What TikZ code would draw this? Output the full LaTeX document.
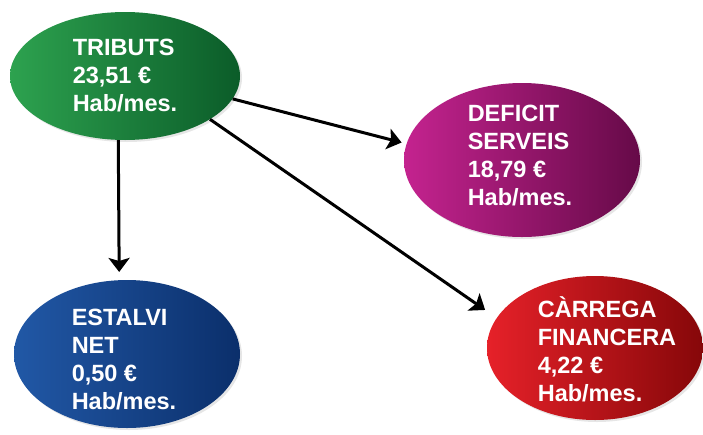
\documentclass[tikz,border=0pt]{standalone}
\usepackage{fontspec}
\setmainfont{Liberation Sans}
\usetikzlibrary{arrows.meta,shapes.geometric,shadows}
\definecolor{trilight}{HTML}{2DA24F}
\definecolor{tridark}{HTML}{0B5C29}
\definecolor{deflight}{HTML}{C4238F}
\definecolor{defdark}{HTML}{660A48}
\definecolor{estlight}{HTML}{2158A6}
\definecolor{estdark}{HTML}{0B2F6B}
\definecolor{carlight}{HTML}{E62129}
\definecolor{cardark}{HTML}{860709}
\tikzset{
  bubble/.style={ellipse,inner sep=0pt,
    drop shadow={opacity=.2,shadow xshift=2pt,shadow yshift=-2pt}},
  bubtext/.style={text=white,align=left,inner sep=0pt,
    font=\fontsize{23.5}{28}\selectfont\bfseries},
  flow/.style={->,line width=3pt},
}

\begin{document}
\begin{tikzpicture}[x=1pt,y=-1pt,>={Stealth[length=14pt,width=21pt,inset=3pt]}]
\useasboundingbox (0,0) rectangle (703,434);
% ellipses
\node[bubble,left color=trilight,middle color=tridark!75!trilight,right color=tridark,minimum width=230pt,minimum height=128pt] (trib) at (125,76) {};
\node[bubble,left color=deflight,middle color=defdark!75!deflight,right color=defdark,minimum width=236pt,minimum height=154pt] (deficit) at (522,160) {};
\node[bubble,left color=estlight,middle color=estdark!75!estlight,right color=estdark,minimum width=226pt,minimum height=148pt] (estalvi) at (127,354) {};
\node[bubble,left color=carlight,middle color=cardark!75!carlight,right color=cardark,minimum width=216pt,minimum height=144pt] (carrega) at (595,348) {};
% texts
\node[bubtext] (tribtxt) at (125,76) {TRIBUTS\\23,51 €\\Hab/mes.};
\node[bubtext] (deficittxt) at (520,156) {DEFICIT\\SERVEIS\\18,79 €\\Hab/mes.};
\node[bubtext] (estalvitxt) at (124,360) {ESTALVI\\NET\\0,50 €\\Hab/mes.};
\node[bubtext] (carregatxt) at (607,349) {CÀRREGA\\FINANCERA\\4,22 €\\Hab/mes.};
% arrows
\draw[flow,shorten >=8pt] (trib.-96) -- (estalvi.96);
\draw[flow,shorten >=5pt] (trib.-12) -- (deficit.172);
\draw[flow,shorten >=14pt] (trib.-27) -- (carrega.163);
\end{tikzpicture}
\end{document}
